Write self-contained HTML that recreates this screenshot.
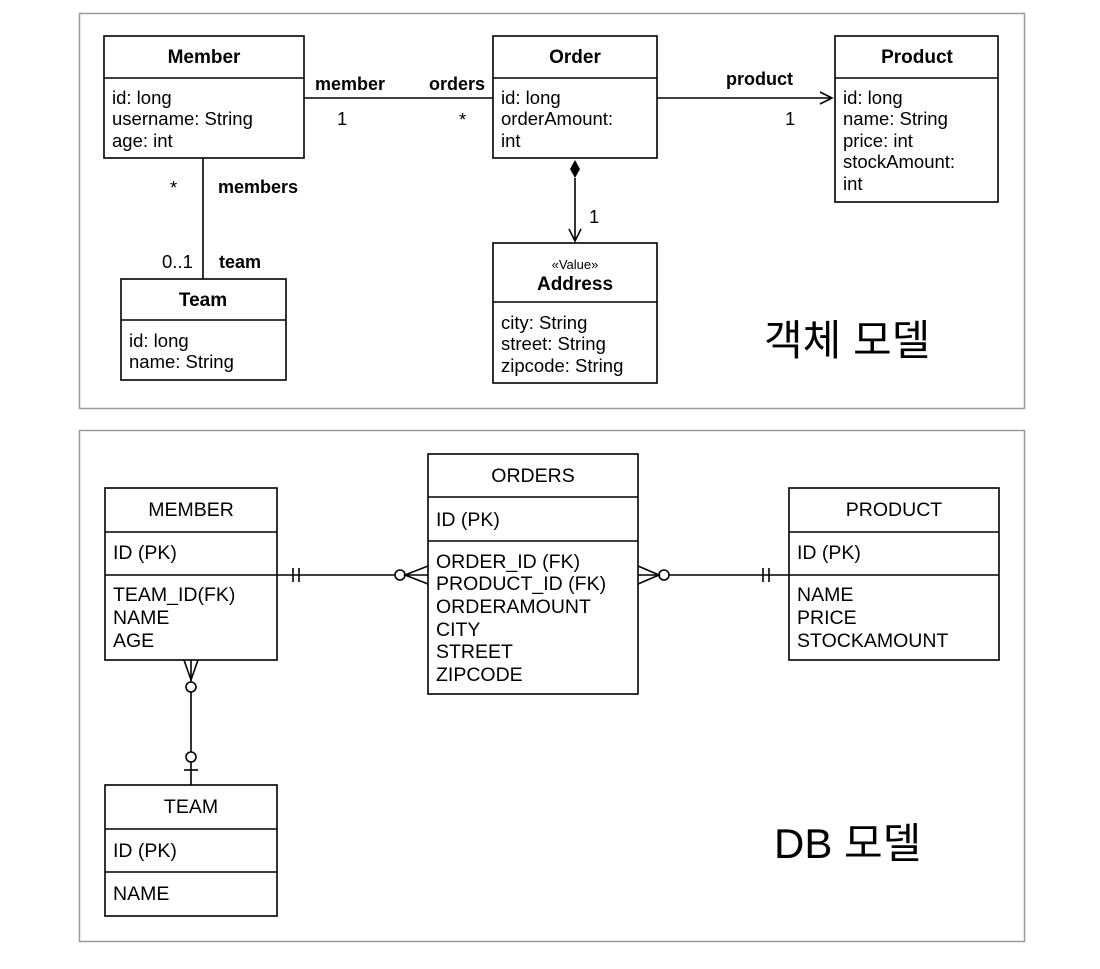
<!DOCTYPE html>
<html><head><meta charset="utf-8"><style>
html,body{margin:0;padding:0;background:#fff}
svg{display:block}
text{font-family:"Liberation Sans","Noto Sans CJK KR",sans-serif;fill:#000}
.h{font-size:19px;font-weight:bold;text-anchor:middle}
.a{font-size:18.5px}
.l{font-size:18px;font-weight:bold}
.e{font-size:19.5px}
.eh{font-size:19.5px;text-anchor:middle}
</style></head><body>
<svg width="1100" height="969" viewBox="0 0 1100 969" xmlns="http://www.w3.org/2000/svg">
<rect width="1100" height="969" fill="#fff"/>
<rect x="79.5" y="13.5" width="945" height="395" fill="#fff" stroke="#9a9a9a" stroke-width="1.5"/>
<rect x="79.5" y="430.5" width="945" height="511" fill="#fff" stroke="#9a9a9a" stroke-width="1.5"/>
<g fill="none" stroke="#000" stroke-width="1.6">
<!-- top boxes -->
<rect x="104" y="36" width="200" height="122"/><line x1="104" y1="78" x2="304" y2="78"/>
<rect x="493" y="36" width="164" height="122"/><line x1="493" y1="78" x2="657" y2="78"/>
<rect x="835" y="36" width="163" height="166"/><line x1="835" y1="78" x2="998" y2="78"/>
<rect x="121" y="279" width="165" height="101"/><line x1="121" y1="320" x2="286" y2="320"/>
<rect x="493" y="243" width="164" height="140"/><line x1="493" y1="302" x2="657" y2="302"/>
<line x1="304" y1="98" x2="493" y2="98"/>
<line x1="657" y1="98" x2="832" y2="98"/>
<polyline points="820,92 832,98 820,104"/>
<line x1="203" y1="158" x2="203" y2="279"/>
<line x1="575" y1="178" x2="575" y2="241"/>
<polyline points="569,229 575,241 581,229"/>
<!-- bottom boxes -->
<rect x="105" y="488" width="172" height="172"/><line x1="105" y1="532" x2="277" y2="532"/><line x1="105" y1="575" x2="277" y2="575"/>
<rect x="428" y="454" width="210" height="240"/><line x1="428" y1="497" x2="638" y2="497"/><line x1="428" y1="541" x2="638" y2="541"/>
<rect x="789" y="488" width="210" height="172"/><line x1="789" y1="532" x2="999" y2="532"/><line x1="789" y1="575" x2="999" y2="575"/>
<rect x="105" y="785" width="172" height="131"/><line x1="105" y1="829" x2="277" y2="829"/><line x1="105" y1="872" x2="277" y2="872"/>
<!-- connectors -->
<line x1="277" y1="575" x2="395" y2="575"/>
<line x1="293" y1="568" x2="293" y2="582"/><line x1="299" y1="568" x2="299" y2="582"/>
<circle cx="400" cy="575" r="5"/>
<polyline points="428,566 405,575 428,584"/><line x1="405" y1="575" x2="428" y2="575"/>
<line x1="669" y1="575" x2="789" y2="575"/>
<line x1="763" y1="568" x2="763" y2="582"/><line x1="769" y1="568" x2="769" y2="582"/>
<circle cx="664" cy="575" r="5"/>
<polyline points="638,566 659,575 638,584"/><line x1="638" y1="575" x2="659" y2="575"/>
<line x1="191" y1="660" x2="191" y2="682"/>
<polyline points="184,660 191,680 198,660"/>
<circle cx="191" cy="687" r="5"/>
<line x1="191" y1="692" x2="191" y2="752"/>
<circle cx="191" cy="757" r="5"/>
<line x1="191" y1="762" x2="191" y2="785"/>
<line x1="184" y1="770" x2="198" y2="770"/>
</g>
<polygon points="575,160 580,169 575,178 570,169" fill="#000"/>
<!-- top text -->
<text class="h" x="204" y="63">Member</text>
<text class="a" x="112" y="104">id: long</text><text class="a" x="112" y="125">username: String</text><text class="a" x="112" y="147">age: int</text>
<text class="h" x="575" y="63">Order</text>
<text class="a" x="501" y="104">id: long</text><text class="a" x="501" y="125">orderAmount:</text><text class="a" x="501" y="147">int</text>
<text class="h" x="917" y="63">Product</text>
<text class="a" x="843" y="104">id: long</text><text class="a" x="843" y="125">name: String</text><text class="a" x="843" y="147">price: int</text><text class="a" x="843" y="168">stockAmount:</text><text class="a" x="843" y="190">int</text>
<text class="h" x="203" y="306">Team</text>
<text class="a" x="129" y="347">id: long</text><text class="a" x="129" y="368">name: String</text>
<text x="575" y="269" style="font-size:13px;text-anchor:middle">«Value»</text>
<text class="h" x="575" y="290">Address</text>
<text class="a" x="501" y="329">city: String</text><text class="a" x="501" y="350">street: String</text><text class="a" x="501" y="372">zipcode: String</text>
<text class="l" x="315" y="90">member</text>
<text class="l" x="429" y="90">orders</text>
<text class="a" x="337" y="125">1</text>
<text class="a" x="459" y="126">*</text>
<text class="l" x="726" y="85">product</text>
<text class="a" x="785" y="125">1</text>
<text class="a" x="170" y="194">*</text>
<text class="l" x="218" y="193">members</text>
<text class="a" x="162" y="268">0..1</text>
<text class="l" x="219" y="268">team</text>
<text class="a" x="589" y="223">1</text>
<text x="764" y="355" style="font-size:42px">객체 모델</text>
<!-- bottom text -->
<text class="eh" x="191" y="516">MEMBER</text>
<text class="e" x="113" y="559">ID (PK)</text>
<text class="e" x="113" y="601">TEAM_ID(FK)</text><text class="e" x="113" y="624">NAME</text><text class="e" x="113" y="647">AGE</text>
<text class="eh" x="533" y="482">ORDERS</text>
<text class="e" x="436" y="526">ID (PK)</text>
<text class="e" x="436" y="568">ORDER_ID (FK)</text><text class="e" x="436" y="590">PRODUCT_ID (FK)</text><text class="e" x="436" y="613">ORDERAMOUNT</text><text class="e" x="436" y="636">CITY</text><text class="e" x="436" y="658">STREET</text><text class="e" x="436" y="681">ZIPCODE</text>
<text class="eh" x="894" y="516">PRODUCT</text>
<text class="e" x="797" y="559">ID (PK)</text>
<text class="e" x="797" y="601">NAME</text><text class="e" x="797" y="624">PRICE</text><text class="e" x="797" y="647">STOCKAMOUNT</text>
<text class="eh" x="191" y="813">TEAM</text>
<text class="e" x="113" y="857">ID (PK)</text>
<text class="e" x="113" y="900">NAME</text>
<text x="774" y="858" style="font-size:42px">DB 모델</text>
</svg>
</body></html>
